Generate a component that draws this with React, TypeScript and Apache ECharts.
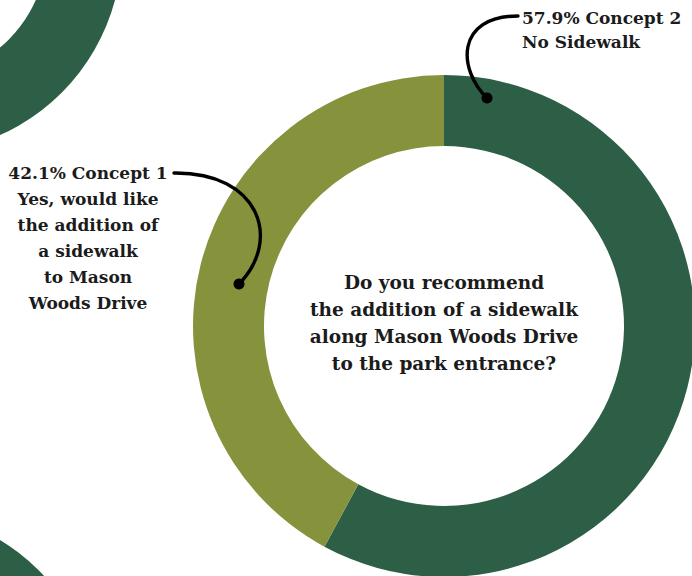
import React, { useEffect, useRef } from "react";
import * as echarts from "echarts";

const categories = ["Concept 2", "Concept 1"];
const values = [57.9, 42.1];
const subLabels = ["No Sidewalk", "Yes, would like\nthe addition of\na sidewalk\nto Mason\nWoods Drive"];
const question = "Do you recommend\nthe addition of a sidewalk\nalong Mason Woods Drive\nto the park entrance?";
const colors = ["#2D5E46", "#87933C"];

const FONT = '"DejaVu Serif", serif';
const INK = "#1b1b1b";

export default function App() {
  const ref = useRef<HTMLDivElement>(null);
  useEffect(() => {
    if (!ref.current) return;
    const chart = echarts.init(ref.current, null, { renderer: "svg" });
    chart.setOption({
      animation: false,
      backgroundColor: "#ffffff",
      series: [
        {
          type: "pie",
          center: [444, 326],
          radius: [180, 251],
          startAngle: 90,
          clockwise: true,
          silent: true,
          label: { show: false },
          labelLine: { show: false },
          itemStyle: { borderWidth: 0 },
          data: categories.map((c, i) => ({
            name: c,
            value: values[i],
            itemStyle: { color: colors[i] },
          })),
        },
      ],
      graphic: [
        { type: "ring", z: 1, shape: { cx: -84, cy: -53, r: 206, r0: 131 }, style: { fill: colors[0] } },
        { type: "ring", z: 1, shape: { cx: -107, cy: 716, r: 206, r0: 131 }, style: { fill: colors[0] } },
        {
          type: "text",
          z: 10,
          style: {
            x: 444,
            y: 323,
            text: question,
            font: `bold 18.5px ${FONT}`,
            fill: INK,
            textAlign: "center",
            textVerticalAlign: "middle",
            lineHeight: 27,
          },
        },
        {
          type: "text",
          z: 10,
          style: {
            x: 522,
            y: 30,
            text: `${values[0]}% ${categories[0]}\n${subLabels[0]}`,
            font: `bold 17px ${FONT}`,
            fill: INK,
            textAlign: "left",
            textVerticalAlign: "middle",
            lineHeight: 24,
          },
        },
        {
          type: "text",
          z: 10,
          style: {
            x: 88,
            y: 238,
            text: `${values[1]}% ${categories[1]}\n${subLabels[1]}`,
            font: `bold 17px ${FONT}`,
            fill: INK,
            textAlign: "center",
            textVerticalAlign: "middle",
            lineHeight: 26,
          },
        },
        {
          type: "bezierCurve",
          z: 20,
          shape: { x1: 518, y1: 16, cpx1: 455, cpy1: 16, cpx2: 458, cpy2: 70, x2: 487, y2: 98 },
          style: { stroke: "#000", lineWidth: 3.4, fill: "none", lineCap: "round" },
        },
        { type: "circle", z: 21, shape: { cx: 487, cy: 98, r: 5.5 }, style: { fill: "#000" } },
        {
          type: "bezierCurve",
          z: 20,
          shape: { x1: 174, y1: 173, cpx1: 260, cpy1: 172, cpx2: 282, cpy2: 240, x2: 239, y2: 284 },
          style: { stroke: "#000", lineWidth: 3.4, fill: "none", lineCap: "round" },
        },
        { type: "circle", z: 21, shape: { cx: 239, cy: 284, r: 5.5 }, style: { fill: "#000" } },
      ],
    });
    return () => chart.dispose();
  }, []);
  return (
    <div
      ref={ref}
      style={{ position: "fixed", left: 0, top: 0, width: 692, height: 576 }}
    />
  );
}
